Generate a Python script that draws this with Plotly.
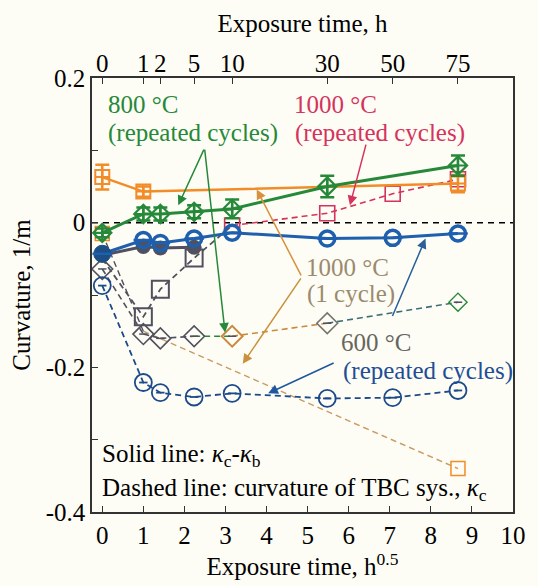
import numpy as np
import plotly.graph_objects as go

# Exposure times (h); the lower axis is plotted against sqrt(h)
hours = [0, 1, 2, 5, 10, 30, 50, 75]
top_tick_hours = [0, 1, 2, 5, 10, 30, 50, 75]

# 600 °C, repeated cycles
c600_solid = [-0.043, -0.024, -0.028, -0.022, -0.014, -0.022, -0.021, -0.015]
c600_dashed = [-0.087, -0.221, -0.235, -0.241, -0.236, -0.243, -0.242, -0.232]
# companion solid points partly hidden under the 600 °C markers
grey_solid_hours = [0, 1, 2, 5]
grey_solid = [-0.045, -0.033, -0.035, -0.034]

# 800 °C, repeated cycles
c800_hours = [0, 1, 2, 5, 10, 30, 75]
c800_solid = [-0.014, 0.012, 0.012, 0.015, 0.019, 0.050, 0.079]
c800_solid_err = [0.006, 0.009, 0.009, 0.009, 0.013, 0.015, 0.014]
c800_dashed = [-0.064, -0.154, -0.160, -0.157, -0.157, -0.139, -0.110]

# 1000 °C, repeated cycles
c1000r_dashed = [-0.050, -0.130, -0.092, -0.049, -0.004, 0.013, 0.040, 0.060]

# 1000 °C, 1 cycle
c1000s_hours = [0, 1, 75]
c1000s_solid = [0.063, 0.043, 0.054]
c1000s_solid_err = [0.017, 0.007, 0.012]
c1000s_dashed = [-0.015, -0.150, -0.340]

BLUE = "#1e5fae"
NAVY = "#1d4a8a"
GREEN = "#26893a"
ORANGE = "#f28c28"
CRIMSON = "#d6335c"
GREY = "#50505f"
TAN = "#c99a62"
FONT = "'Liberation Serif', 'Times New Roman', 'DejaVu Serif', serif"
BG = "#fdfdf5"

sq = lambda h: list(np.sqrt(np.asarray(h, dtype=float)))
x8 = sq(hours)
x800 = sq(c800_hours)
x1000s = sq(c1000s_hours)
xgrey = sq(grey_solid_hours)

DASH = "6px,4px"
fig = go.Figure()


def seg(x, y, i0, i1, color, width=1.6, dash=DASH):
    fig.add_trace(go.Scatter(x=x[i0:i1 + 1], y=y[i0:i1 + 1], mode="lines",
                             line=dict(color=color, width=width, dash=dash),
                             showlegend=False, hoverinfo="skip"))


def marks(x, y, symbol, color, size, lw, fill=None):
    fig.add_trace(go.Scatter(x=x, y=y, mode="markers", showlegend=False,
                             marker=dict(symbol=symbol, size=size,
                                         color=fill if fill else color,
                                         line=dict(color=color, width=lw))))


# ---- dashed lines: curvature of the TBC system ----
# 1000 °C, 1 cycle
seg(x1000s, c1000s_dashed, 0, 1, GREY, 1.4)
seg(x1000s, c1000s_dashed, 1, 2, TAN, 1.4)
marks([x1000s[0], x1000s[2]], [c1000s_dashed[0], c1000s_dashed[2]], "square-open", ORANGE, 14, 1.5)

# 800 °C
d800_colors = [GREY, GREY, GREY, GREEN, "#c98a3e", "#3d6f78"]
for i, col in enumerate(d800_colors):
    seg(x800, c800_dashed, i, i + 1, col, 1.6)
marks(x800[:4], c800_dashed[:4], "diamond-open", GREY, 16, 1.6)
marks([x800[4]], [c800_dashed[4]], "diamond-open", "#c98a3e", 16, 2)
marks([x800[5]], [c800_dashed[5]], "diamond-open", "#77746a", 16, 1.6)
marks([x800[6]], [c800_dashed[6]], "diamond-open", GREEN, 14, 1.4)
marks(x800, c800_dashed, "line-ew-open", GREY, 6, 1.5)

# 1000 °C, repeated
seg(x8, c1000r_dashed, 0, 4, GREY, 1.8)
seg(x8, c1000r_dashed, 4, 7, CRIMSON, 1.6)
marks(x8[1:4], c1000r_dashed[1:4], "square-open", GREY, 17, 2)
marks(x8[4:], c1000r_dashed[4:], "square-open", CRIMSON, 15, 1.6)

# 600 °C
seg(x8, c600_dashed, 0, 7, NAVY, 1.8)
marks(x8, c600_dashed, "circle-open", NAVY, 17, 1.8, None)
marks(x8, c600_dashed, "line-ew-open", NAVY, 6, 1.8)

# ---- solid lines: kc - kb ----
fig.add_trace(go.Scatter(x=xgrey, y=grey_solid, mode="lines+markers", showlegend=False,
                         line=dict(color=GREY, width=3),
                         marker=dict(symbol="circle", size=15, color=GREY)))

fig.add_trace(go.Scatter(x=x1000s, y=c1000s_solid, mode="lines+markers", showlegend=False,
                         line=dict(color=ORANGE, width=2.5),
                         marker=dict(symbol="square-cross-open", size=14,
                                     color=ORANGE, line=dict(color=ORANGE, width=2)),
                         error_y=dict(type="data", array=c1000s_solid_err, color=ORANGE,
                                      thickness=2.5, width=7)))

fig.add_trace(go.Scatter(x=x800, y=c800_solid, mode="lines+markers", showlegend=False,
                         line=dict(color=GREEN, width=3),
                         marker=dict(symbol="diamond-cross-open", size=14,
                                     color=GREEN, line=dict(color=GREEN, width=2.2)),
                         error_y=dict(type="data", array=c800_solid_err, color=GREEN,
                                      thickness=2.5, width=7)))

fig.add_trace(go.Scatter(x=x8, y=c600_solid, mode="lines", showlegend=False,
                         line=dict(color=BLUE, width=3)))
marks(x8[1:], c600_solid[1:], "circle-open", BLUE, 15, 3.5)
marks(x8[:1], c600_solid[:1], "circle", "#1b4f86", 17, 1)
marks(x8, c600_solid, "line-ew-open", BLUE, 14, 2.5)

# top axis carrying real hours
fig.add_trace(go.Scatter(x=[0], y=[0], xaxis="x2", mode="markers",
                         marker=dict(opacity=0), showlegend=False, hoverinfo="skip"))

# zero reference line
fig.add_shape(type="line", xref="paper", yref="y", x0=0, x1=1, y0=0, y1=0,
              line=dict(color="black", width=1.5, dash="6px,5px"), layer="below")

# ---- arrows ----
def arrow(x, y, ax, ay, color):
    fig.add_annotation(x=x, y=y, ax=ax, ay=ay, xref="x", yref="y", axref="x", ayref="y",
                       text="", showarrow=True, arrowhead=2, arrowsize=1.3,
                       arrowwidth=1.5, arrowcolor=color, standoff=0)

arrow(1.85, 0.024, 2.49, 0.103, GREEN)
arrow(2.99, -0.152, 2.49, 0.103, GREEN)
arrow(6.03, 0.024, 6.43, 0.110, CRIMSON)
arrow(3.76, 0.046, 4.86, -0.075, "#d8913e")
arrow(3.42, -0.195, 4.86, -0.075, "#c9913e")
arrow(7.87, -0.022, 7.05, -0.131, "#2a5f9a")
arrow(4.04, -0.236, 5.67, -0.193, "#1f56a0")

# ---- labels ----
def label(x, y, text, color, anchor="left", size=25):
    fig.add_annotation(x=x, y=y, xref="x", yref="y", text=text, showarrow=False,
                       xanchor=anchor, yanchor="middle",
                       font=dict(family=FONT, size=size, color=color))

label(0.08, 0.163, "800 °C", GREEN)
label(0.10, 0.124, "(repeated cycles)", GREEN)
label(5.69, 0.163, "1000 °C", CRIMSON, "center")
label(6.75, 0.124, "(repeated cycles)", CRIMSON, "center")
label(5.98, -0.062, "1000 °C", "#9c8a6e", "center")
label(6.05, -0.099, "(1 cycle)", "#9c8a6e", "center")
label(6.67, -0.166, "600 °C", "#67665e", "center")
label(7.92, -0.205, "(repeated cycles)", "#1f4e96", "center")
label(-0.06, -0.322, "Solid line: <i>κ</i><sub>c</sub>-<i>κ</i><sub>b</sub>", "black")
label(-0.06, -0.369, "Dashed line: curvature of TBC sys., <i>κ</i><sub>c</sub>", "black")

axis_font = dict(family=FONT, size=25, color="black")
fig.update_layout(
    width=538, height=586,
    margin=dict(l=92, r=16, t=78, b=74),
    paper_bgcolor=BG, plot_bgcolor=BG,
    font=axis_font,
    xaxis=dict(range=[-0.25, 10], tickvals=list(range(11)), ticks="inside", ticklen=6,
               tickcolor="#333", showline=True, linecolor="#333", linewidth=1.5,
               mirror=True, showgrid=False, zeroline=False, tickfont=axis_font,
               title=dict(text="Exposure time, h<sup>0.5</sup>", font=axis_font, standoff=6)),
    xaxis2=dict(range=[-0.25, 10], overlaying="x", side="top",
                tickvals=sq(top_tick_hours), ticktext=[str(h) for h in top_tick_hours],
                ticks="inside", ticklen=6, tickcolor="#333", showgrid=False,
                zeroline=False, showline=False, tickfont=axis_font,
                title=dict(text="Exposure time, h", font=axis_font, standoff=10)),
    yaxis=dict(range=[-0.4, 0.2], tickvals=[-0.4, -0.2, 0, 0.2],
               ticktext=["-0.4", "-0.2", "0", "0.2"], ticks="inside", ticklen=6,
               tickcolor="#333", minor=dict(dtick=0.1, tick0=0, ticks="inside", ticklen=6,
                                           tickcolor="#333"),
               showline=True, linecolor="#333", linewidth=1.5, mirror=True,
               showgrid=False, zeroline=False, tickfont=axis_font,
               title=dict(text="Curvature, 1/m", font=axis_font, standoff=8)),
    showlegend=False,
)

fig.write_html("out.html")
